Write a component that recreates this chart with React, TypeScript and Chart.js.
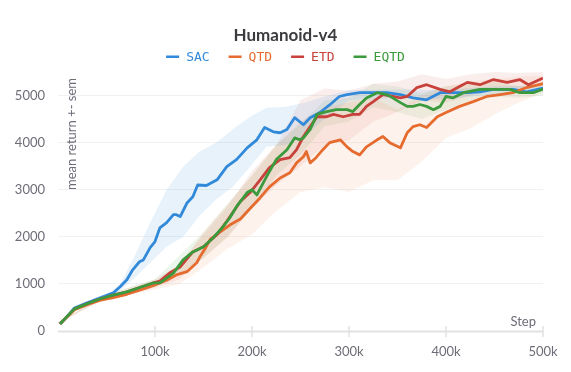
import React, { useEffect, useRef } from "react";
import { Chart, registerables } from "chart.js";

Chart.register(...registerables);

// ---- data (steps in thousands) ----
const xTickValues = [100000, 200000, 300000, 400000, 500000];
const yTickValues = [0, 1000, 2000, 3000, 4000, 5000];
const seriesNames = ["SAC", "QTD", "ETD", "EQTD"];

const sacSteps = [3, 9, 17, 30, 43, 57, 64, 71, 77, 84, 88, 95, 100, 105, 112, 119, 122, 126, 133, 139, 144, 153, 164, 174, 184, 195, 205, 213, 222, 229, 236, 244, 253, 260, 270, 280, 290, 298, 311, 325, 339, 353, 366, 380, 394, 407, 422, 435, 449, 460, 469, 483, 499];
const sacMean = [170, 300, 490, 600, 700, 810, 940, 1090, 1300, 1470, 1510, 1770, 1900, 2190, 2300, 2470, 2470, 2430, 2720, 2850, 3100, 3090, 3210, 3490, 3640, 3890, 4060, 4320, 4230, 4210, 4280, 4530, 4380, 4530, 4640, 4800, 4980, 5020, 5060, 5060, 5060, 5020, 4950, 4910, 5060, 5060, 5060, 5080, 5130, 5130, 5130, 5080, 5150];
const sacBandSteps = [0, 20, 40, 55, 64, 77, 95, 112, 129, 146, 163, 180, 198, 215, 235, 255, 275, 300, 350, 400, 450, 500];
const sacLow = [160, 460, 660, 760, 860, 1090, 1450, 1790, 2000, 2450, 2790, 3060, 3490, 3910, 3950, 4150, 4500, 4900, 4950, 4920, 5030, 5080];
const sacHigh = [180, 500, 720, 830, 1000, 1510, 2300, 3000, 3490, 3810, 4000, 4280, 4550, 4740, 4760, 4850, 4980, 5120, 5130, 5120, 5200, 5220];

const qtdSteps = [3, 9, 17, 30, 43, 57, 71, 85, 98, 112, 122, 133, 143, 147, 152, 157, 167, 177, 188, 198, 208, 218, 229, 239, 246, 253, 256, 260, 266, 273, 280, 291, 298, 304, 311, 318, 329, 335, 342, 353, 360, 366, 373, 380, 391, 400, 414, 428, 442, 456, 469, 483, 499];
const qtdMean = [170, 290, 450, 560, 650, 710, 780, 870, 960, 1080, 1190, 1260, 1450, 1600, 1760, 1950, 2100, 2250, 2380, 2600, 2820, 3060, 3250, 3360, 3570, 3700, 3810, 3570, 3680, 3850, 4000, 4060, 3910, 3810, 3740, 3910, 4060, 4130, 4000, 3890, 4210, 4340, 4380, 4320, 4550, 4640, 4770, 4870, 4980, 5020, 5060, 5170, 5250];
const qtdBandSteps = [0, 40, 80, 100, 125, 150, 175, 200, 225, 250, 275, 300, 325, 350, 375, 400, 425, 450, 475, 500];
const qtdLow = [160, 620, 800, 880, 1000, 1350, 1750, 2050, 2550, 2950, 3050, 2950, 3200, 3200, 3600, 4100, 4300, 4600, 4850, 5060];
const qtdHigh = [180, 680, 880, 1050, 1400, 2100, 2700, 3300, 3950, 4450, 4750, 4850, 4950, 4700, 5000, 5200, 5300, 5350, 5400, 5420];

const etdSteps = [3, 9, 17, 30, 43, 57, 71, 85, 98, 105, 115, 126, 139, 150, 164, 174, 188, 198, 208, 218, 229, 239, 246, 253, 260, 267, 277, 284, 294, 304, 311, 318, 325, 335, 345, 353, 360, 370, 380, 394, 404, 414, 422, 435, 449, 463, 476, 485, 499];
const etdMean = [170, 300, 470, 580, 680, 760, 830, 930, 1020, 1060, 1230, 1360, 1680, 1790, 2050, 2330, 2750, 2940, 3200, 3470, 3640, 3680, 3850, 4130, 4340, 4550, 4550, 4600, 4550, 4600, 4600, 4770, 4870, 5020, 4980, 4950, 4980, 5170, 5230, 5130, 5080, 5190, 5280, 5230, 5340, 5280, 5340, 5230, 5360];
const etdBandSteps = [0, 50, 100, 125, 150, 175, 200, 225, 250, 275, 300, 325, 350, 375, 400, 425, 450, 475, 500];
const etdLow = [160, 700, 920, 1100, 1550, 2000, 2600, 3100, 3500, 3950, 4050, 4450, 4650, 4900, 4850, 5000, 5150, 5150, 5200];
const etdHigh = [180, 760, 1100, 1400, 2050, 2650, 3400, 3950, 4900, 5150, 5100, 5250, 5300, 5450, 5350, 5450, 5500, 5480, 5500];

const eqtdSteps = [3, 9, 17, 30, 43, 57, 71, 85, 98, 105, 119, 129, 139, 150, 160, 170, 177, 184, 195, 200, 205, 215, 225, 236, 244, 249, 253, 260, 267, 277, 287, 298, 304, 311, 318, 329, 339, 345, 353, 360, 366, 373, 380, 387, 394, 400, 407, 418, 435, 453, 466, 476, 490, 499];
const eqtdMean = [170, 300, 470, 580, 680, 760, 830, 930, 1020, 1020, 1230, 1510, 1680, 1790, 1980, 2210, 2400, 2640, 2940, 3000, 2890, 3280, 3640, 3850, 4100, 4060, 4100, 4280, 4600, 4660, 4700, 4700, 4660, 4810, 4950, 5060, 5020, 4950, 4850, 4770, 4770, 4810, 4770, 4700, 4770, 4980, 4950, 5060, 5130, 5130, 5130, 5060, 5060, 5130];
const eqtdBandSteps = [0, 50, 100, 125, 150, 175, 200, 225, 250, 275, 300, 325, 350, 375, 400, 425, 450, 475, 500];
const eqtdLow = [160, 720, 950, 1200, 1550, 2000, 2600, 3300, 3750, 4350, 4450, 4750, 4650, 4500, 4700, 4900, 4980, 4950, 5000];
const eqtdHigh = [180, 780, 1100, 1600, 2100, 2700, 3300, 3950, 4400, 4900, 4950, 5250, 5200, 5050, 5200, 5250, 5280, 5200, 5250];

const SANS = 'Lato, "Noto Sans", sans-serif';
const MONO = '"DejaVu Sans Mono", "Liberation Mono", monospace';
const GRAY = "#6d6d78";

type Series = {
  name: string;
  color: string;
  band: string;
  steps: number[];
  mean: number[];
  bandSteps: number[];
  low: number[];
  high: number[];
};

const SERIES: Series[] = [
  { name: seriesNames[0], color: "#3189d9", band: "rgba(49,137,217,0.11)", steps: sacSteps, mean: sacMean, bandSteps: sacBandSteps, low: sacLow, high: sacHigh },
  { name: seriesNames[1], color: "#e56b2f", band: "rgba(229,107,47,0.09)", steps: qtdSteps, mean: qtdMean, bandSteps: qtdBandSteps, low: qtdLow, high: qtdHigh },
  { name: seriesNames[2], color: "#c8423b", band: "rgba(200,66,59,0.09)", steps: etdSteps, mean: etdMean, bandSteps: etdBandSteps, low: etdLow, high: etdHigh },
  { name: seriesNames[3], color: "#3a9a3c", band: "rgba(58,154,60,0.09)", steps: eqtdSteps, mean: eqtdMean, bandSteps: eqtdBandSteps, low: eqtdLow, high: eqtdHigh },
];

const pts = (xs: number[], ys: number[]) => xs.map((x, i) => ({ x: x * 1000, y: ys[i] }));

export default function App() {
  const ref = useRef<HTMLCanvasElement | null>(null);

  useEffect(() => {
    document.body.style.margin = "0";
    const canvas = ref.current;
    if (!canvas) return;

    const datasets: any[] = [];
    SERIES.forEach((s) => {
      datasets.push({
        label: "_lo_" + s.name,
        data: pts(s.bandSteps, s.low),
        borderWidth: 0,
        borderColor: "transparent",
        pointRadius: 0,
        fill: false,
        order: 10,
      });
      datasets.push({
        label: "_hi_" + s.name,
        data: pts(s.bandSteps, s.high),
        borderWidth: 0,
        borderColor: "transparent",
        backgroundColor: s.band,
        pointRadius: 0,
        fill: "-1",
        order: 10,
      });
    });
    SERIES.forEach((s, k) => {
      datasets.push({
        label: s.name,
        data: pts(s.steps, s.mean),
        borderColor: s.color,
        backgroundColor: s.color,
        borderWidth: 2.8,
        pointRadius: 0,
        fill: false,
        order: 4 - k,
        borderJoinStyle: "round",
        borderCapStyle: "round",
      });
    });

    const deco = {
      id: "deco",
      beforeDatasetsDraw(chart: any) {
        const { ctx, chartArea: ca, scales } = chart;
        ctx.save();
        ctx.strokeStyle = "#e2e2e4";
        ctx.lineWidth = 2;
        ctx.beginPath();
        ctx.moveTo(ca.left, ca.bottom + 0.5);
        ctx.lineTo(ca.right, ca.bottom + 0.5);
        ctx.stroke();
        ctx.lineWidth = 1.5;
        xTickValues.forEach((v) => {
          const x = scales.x.getPixelForValue(v);
          ctx.beginPath();
          ctx.moveTo(x, ca.bottom - 5);
          ctx.lineTo(x, ca.bottom + 6);
          ctx.stroke();
        });
        ctx.restore();
      },
      afterDraw(chart: any) {
        const { ctx, chartArea: ca } = chart;
        const W = chart.width;
        ctx.save();
        // title
        ctx.font = `bold 17px ${SANS}`;
        ctx.fillStyle = "#3b3b40";
        ctx.textAlign = "center";
        ctx.textBaseline = "middle";
        ctx.fillText("Humanoid-v4", W / 2, 35.5);
        // legend
        ctx.font = `13px ${MONO}`;
        const boxW = 13, gapBox = 7, gapItem = 19;
        const widths = SERIES.map((s) => boxW + gapBox + ctx.measureText(s.name).width);
        const total = widths.reduce((a, b) => a + b, 0) + gapItem * (SERIES.length - 1);
        let x = (W - total) / 2;
        ctx.textAlign = "left";
        ctx.textBaseline = "middle";
        SERIES.forEach((s, i) => {
          ctx.fillStyle = s.color;
          ctx.fillRect(x, 55.5, boxW, 2.5);
          ctx.fillText(s.name, x + boxW + gapBox, 57.5);
          x += widths[i] + gapItem;
        });
        // y axis title inside plot
        ctx.font = `13px ${SANS}`;
        ctx.fillStyle = GRAY;
        ctx.save();
        ctx.translate(72, ca.top + 6);
        ctx.rotate(-Math.PI / 2);
        ctx.textAlign = "right";
        ctx.textBaseline = "middle";
        ctx.fillText("mean return +- sem", 0, 0);
        ctx.restore();
        // x axis title
        ctx.textAlign = "right";
        ctx.textBaseline = "alphabetic";
        ctx.fillText("Step", ca.right - 7, ca.bottom - 5);
        ctx.restore();
      },
    };

    const chart = new Chart(canvas, {
      type: "line",
      data: { datasets },
      options: {
        responsive: false,
        animation: false,
        devicePixelRatio: 1,
        layout: { padding: { top: 72, right: 28, left: 0, bottom: 0 } },
        plugins: {
          legend: { display: false },
          title: { display: false },
          tooltip: { enabled: false },
        },
        elements: { line: { tension: 0 } },
        scales: {
          x: {
            type: "linear",
            min: 0,
            max: 500000,
            grid: { display: false, drawTicks: false },
            border: { display: false },
            ticks: {
              color: GRAY,
              font: { family: SANS, size: 13 },
              padding: 13,
              maxRotation: 0,
              autoSkip: false,
              callback: (v: any) => Number(v) / 1000 + "k",
            },
            afterBuildTicks: (s: any) => {
              s.ticks = xTickValues.map((v) => ({ value: v }));
            },
            afterFit: (s: any) => {
              s.height = 41;
            },
          },
          y: {
            min: 0,
            max: 5500,
            grid: { color: "rgba(0,0,0,0.055)", drawTicks: false },
            border: { display: false },
            ticks: {
              color: GRAY,
              font: { family: SANS, size: 13 },
              padding: 13,
              callback: (v: any) => String(v),
            },
            afterBuildTicks: (s: any) => {
              s.ticks = yTickValues.map((v) => ({ value: v }));
            },
            afterFit: (s: any) => {
              s.width = 58;
            },
          },
        },
      },
      plugins: [deco],
    } as any);

    return () => chart.destroy();
  }, []);

  return (
    <div style={{ width: 571, height: 372 }}>
      <canvas ref={ref} width={571} height={372} style={{ display: "block" }} />
    </div>
  );
}
